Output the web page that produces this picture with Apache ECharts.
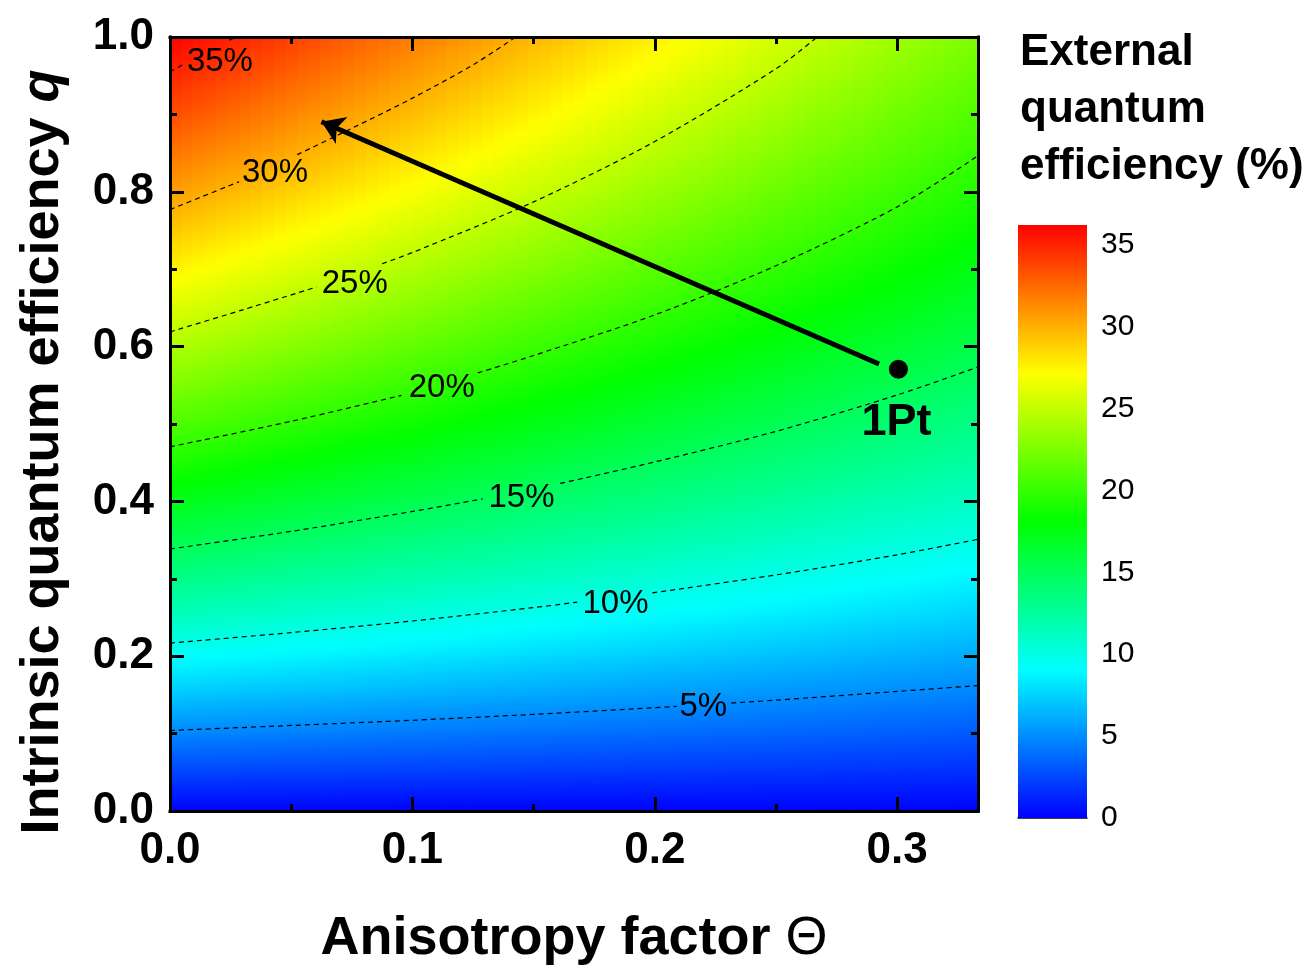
<!DOCTYPE html>
<html>
<head>
<meta charset="utf-8">
<script src="https://cdn.jsdelivr.net/npm/echarts@6/dist/echarts.min.js"></script>
<style>
  html, body { margin: 0; padding: 0; background: #fff; }
  #main { width: 1313px; height: 967px; }
</style>
</head>
<body>
<div id="main"></div>
<script>
// ---------------- DATA ----------------
// Grid nodes of the EQE map
const thetaNodes = [0, 0.0666667, 0.1333333, 0.2, 0.2666667, 0.3333333];
const qNodes = [0, 0.05, 0.10, 0.15, 0.20, 0.25, 0.30, 0.35, 0.40, 0.45, 0.50,
                0.55, 0.60, 0.65, 0.70, 0.75, 0.80, 0.85, 0.90, 0.95, 1.00];
// EQE (%) along q, one array per Θ column
const eqeTheta0 = [0, 2.43, 4.77, 7.03, 9.21, 11.32, 13.36, 15.34, 17.25, 19.10, 20.89, 22.63, 24.32, 25.96, 27.55, 29.10, 30.60, 32.06, 33.48, 34.86, 36.20];
const eqeTheta1 = [0, 2.26, 4.43, 6.53, 8.55, 10.50, 12.38, 14.20, 15.95, 17.65, 19.30, 20.89, 22.44, 23.93, 25.38, 26.79, 28.15, 29.48, 30.77, 32.03, 33.24];
const eqeTheta2 = [0, 2.10, 4.11, 6.04, 7.90, 9.70, 11.43, 13.10, 14.70, 16.25, 17.76, 19.21, 20.62, 21.97, 23.29, 24.56, 25.80, 27.00, 28.17, 29.29, 30.39];
const eqeTheta3 = [0, 1.93, 3.78, 5.56, 7.26, 8.90, 10.48, 12.01, 13.48, 14.89, 16.26, 17.57, 18.85, 20.07, 21.26, 22.41, 23.53, 24.61, 25.65, 26.66, 27.65];
const eqeTheta4 = [0, 1.77, 3.47, 5.08, 6.65, 8.14, 9.57, 10.95, 12.28, 13.56, 14.79, 15.97, 17.12, 18.22, 19.29, 20.32, 21.32, 22.30, 23.23, 24.13, 25.01];
const eqeTheta5 = [0, 1.61, 3.15, 4.63, 6.04, 7.39, 8.69, 9.93, 11.12, 12.27, 13.38, 14.44, 15.47, 16.46, 17.41, 18.33, 19.22, 20.08, 20.92, 21.72, 22.50];

// Colour scale range (%)
const colorScaleRange = [0, 36.2];
const colorbarTicks = [0, 5, 10, 15, 20, 25, 30, 35];

// Dashed iso-EQE contours [Θ, q]; '-' marks the gap left for the label
const contour5  = [[0,0.104],[0.05,0.1105],[0.10,0.1172],[0.15,0.1248],[0.20,0.1334],[0.209,0.1352],['-','-'],[0.2315,0.1395],[0.25,0.1432],[0.30,0.1545],[0.3333,0.162]];
const contour10 = [[0,0.217],[0.05,0.2305],[0.10,0.2455],[0.15,0.2628],[0.168,0.2698],['-','-'],[0.199,0.2819],[0.25,0.305],[0.30,0.331],[0.3333,0.351]];
const contour15 = [[0,0.3385],[0.05,0.3613],[0.10,0.387],[0.129,0.4033],['-','-'],[0.161,0.4233],[0.20,0.451],[0.25,0.4905],[0.30,0.5375],[0.3333,0.5736]];
const contour20 = [[0,0.4705],[0.05,0.5035],[0.0955,0.537],['-','-'],[0.127,0.566],[0.15,0.5885],[0.20,0.641],[0.25,0.7045],[0.30,0.7805],[0.3333,0.8465]];
const contour25 = [[0,0.619],[0.03,0.6475],[0.0605,0.677],['-','-'],[0.0875,0.707],[0.10,0.7215],[0.15,0.787],[0.20,0.865],[0.25,0.959],[0.267,1.0]];
const contour30 = [[0,0.777],[0.0285,0.813],['-','-'],[0.0525,0.848],[0.075,0.882],[0.10,0.921],[0.125,0.964],[0.1426,1.0]];
const contour35 = [[0,0.955],[0.006,0.9655],['-','-'],[0.0245,0.996],[0.0275,1.0]];

// Contour labels
const contourLabelText = ['5%', '10%', '15%', '20%', '25%', '30%', '35%'];
const contourLabelTheta = [0.2200, 0.1838, 0.1450, 0.1121, 0.0762, 0.0433, 0.0206];
const contourLabelQ     = [0.1344, 0.2681, 0.4050, 0.5465, 0.6815, 0.8243, 0.9677];

// Device point and arrow
const devicePoint = [0.3005, 0.5707];
const deviceName = '1Pt';
const arrowStart = [0.2925, 0.5775];
const arrowEnd = [0.0625, 0.8906];

// Axis ranges / ticks
const thetaRange = [0, 0.3333333];
const qRange = [0, 1];

// ---------------- STYLE ----------------
const FONT = '"Liberation Sans", Arial, Helvetica, sans-serif';
const rainbowStops = [[0,0,255],[0,255,255],[0,255,0],[255,255,0],[255,0,0]];

function valueToColor(v) {
  const t = Math.max(0, Math.min(1, (v - colorScaleRange[0]) / (colorScaleRange[1] - colorScaleRange[0]))) * (rainbowStops.length - 1);
  const i = Math.min(Math.floor(t), rainbowStops.length - 2);
  const f = t - i;
  const a = rainbowStops[i], b = rainbowStops[i + 1];
  return 'rgb(' + Math.round(a[0] + (b[0] - a[0]) * f) + ',' + Math.round(a[1] + (b[1] - a[1]) * f) + ',' + Math.round(a[2] + (b[2] - a[2]) * f) + ')';
}

const eqeColumns = [eqeTheta0, eqeTheta1, eqeTheta2, eqeTheta3, eqeTheta4, eqeTheta5];
const cellData = [];
for (let i = 0; i < thetaNodes.length - 1; i++) {
  for (let j = 0; j < qNodes.length - 1; j++) {
    cellData.push([thetaNodes[i], qNodes[j], thetaNodes[i + 1], qNodes[j + 1],
      eqeColumns[i][j], eqeColumns[i + 1][j], eqeColumns[i][j + 1], eqeColumns[i + 1][j + 1]]);
  }
}

function renderCell(params, api) {
  const p0 = api.coord([api.value(0), api.value(1)]);
  const p1 = api.coord([api.value(2), api.value(3)]);
  const v00 = api.value(4), v10 = api.value(5), v01 = api.value(6), v11 = api.value(7);
  const K = 14;
  const w = (p1[0] - p0[0]) / K;
  const h = p0[1] - p1[1];
  const children = [];
  for (let k = 0; k < K; k++) {
    const tm = (k + 0.5) / K;
    const vb = v00 + (v10 - v00) * tm;
    const vt = v01 + (v11 - v01) * tm;
    const stops = [];
    for (let s = 0; s <= 4; s++) {
      const f = s / 4;
      stops.push({ offset: f, color: valueToColor(vb + (vt - vb) * f) });
    }
    children.push({
      type: 'rect',
      shape: { x: p0[0] + k * w, y: p1[1], width: w + 0.8, height: h + 0.8 },
      style: { fill: { type: 'linear', x: 0, y: 1, x2: 0, y2: 0, colorStops: stops } },
      silent: true
    });
  }
  return { type: 'group', children: children };
}

function renderColorbar(params, api) {
  const p0 = api.coord([api.value(0), api.value(1)]);
  const p1 = api.coord([api.value(2), api.value(3)]);
  const stops = rainbowStops.map(function (c, i) {
    return { offset: i / (rainbowStops.length - 1), color: 'rgb(' + c.join(',') + ')' };
  });
  return {
    type: 'rect',
    shape: { x: p0[0], y: p1[1], width: p1[0] - p0[0], height: p0[1] - p1[1] },
    style: { fill: { type: 'linear', x: 0, y: 1, x2: 0, y2: 0, colorStops: stops } }
  };
}

function oneDecimal(v) {
  return Math.abs(v * 10 - Math.round(v * 10)) < 1e-6 ? v.toFixed(1) : '';
}

const lineBlack3 = { color: '#000', width: 3, cap: 'square' };
function frameAxis(position, min, max, interval, major, extra) {
  return Object.assign({
    type: 'value', gridIndex: 0, position: position, min: min, max: max, interval: interval, z: 10,
    axisLine: { show: major, onZero: false, lineStyle: lineBlack3 },
    axisTick: { show: true, inside: true, length: major ? 14 : 7, lineStyle: { color: '#000', width: 3 } },
    axisLabel: { show: false },
    splitLine: { show: false },
    minorTick: { show: false }
  }, extra || {});
}

const labelStyle = { fontSize: 44, fontWeight: 'bold', fontFamily: FONT, color: '#000' };

const contourSeries = [contour5, contour10, contour15, contour20, contour25, contour30, contour35].map(function (c) {
  return {
    type: 'line', xAxisIndex: 0, yAxisIndex: 0, data: c,
    showSymbol: false, symbol: 'none', smooth: 0.3, connectNulls: false, silent: true, z: 3,
    lineStyle: { color: '#000', width: 1.2, opacity: 1, type: [5, 4] }
  };
});

const option = {
  animation: false,
  backgroundColor: '#fff',
  title: {
    text: 'External\nquantum\nefficiency (%)',
    left: 1020, top: 24, padding: 0,
    textStyle: { fontSize: 44, fontWeight: 'bold', fontFamily: FONT, color: '#000', lineHeight: 57 }
  },
  grid: [
    { left: 170, top: 37, width: 808, height: 774, containLabel: false, outerBoundsMode: 'none' },
    { left: 1018, top: 225, width: 69, height: 593, containLabel: false, outerBoundsMode: 'none' }
  ],
  xAxis: [
    frameAxis('bottom', thetaRange[0], thetaRange[1], 0.1, true, {
      axisLabel: Object.assign({ show: true, margin: 18, formatter: oneDecimal }, labelStyle),
      name: '{b|Anisotropy factor }{t|Θ}', nameLocation: 'middle', nameGap: 101,
      nameTextStyle: {
        fontSize: 54, fontWeight: 'bold', fontFamily: FONT, color: '#000',
        rich: {
          b: { fontSize: 54, fontWeight: 'bold', fontFamily: FONT, color: '#000' },
          t: { fontSize: 54, fontWeight: 'normal', fontFamily: FONT, color: '#000' }
        }
      }
    }),
    frameAxis('bottom', thetaRange[0], thetaRange[1], 0.05, false),
    frameAxis('top', thetaRange[0], thetaRange[1], 0.1, true),
    frameAxis('top', thetaRange[0], thetaRange[1], 0.05, false),
    { type: 'value', gridIndex: 1, min: 0, max: 1, position: 'bottom',
      axisLine: { show: true, onZero: false, lineStyle: { color: '#000', width: 1.5 } },
      axisTick: { show: false }, axisLabel: { show: false }, splitLine: { show: false } }
  ],
  yAxis: [
    frameAxis('left', qRange[0], qRange[1], 0.2, true, {
      axisLabel: Object.assign({ show: true, margin: 16, formatter: oneDecimal }, labelStyle),
      name: 'Intrinsic quantum efficiency {i|q}', nameLocation: 'middle', nameGap: 100,
      nameTextStyle: {
        fontSize: 54, fontWeight: 'bold', fontFamily: FONT, color: '#000',
        padding: [0, 56, 0, 0],
        rich: {
          i: { fontSize: 54, fontWeight: 'bold', fontStyle: 'italic', fontFamily: FONT, color: '#000' }
        }
      }
    }),
    frameAxis('left', qRange[0], qRange[1], 0.1, false),
    frameAxis('right', qRange[0], qRange[1], 0.2, true),
    frameAxis('right', qRange[0], qRange[1], 0.1, false),
    { type: 'value', gridIndex: 1, min: colorScaleRange[0], max: colorScaleRange[1], interval: 5, position: 'right',
      axisLine: { show: false, onZero: false }, axisTick: { show: false }, splitLine: { show: false },
      axisLabel: { show: true, margin: 14, fontSize: 30, fontFamily: FONT, color: '#000',
        formatter: function (v) { return colorbarTicks.indexOf(v) >= 0 ? String(v) : ''; } } }
  ],
  series: [
    {
      type: 'custom', name: 'EQE map', xAxisIndex: 0, yAxisIndex: 0, data: cellData,
      renderItem: renderCell, encode: { x: [0, 2], y: [1, 3] }, silent: true, z: 1
    },
    {
      type: 'custom', name: 'colorbar', xAxisIndex: 4, yAxisIndex: 4,
      data: [[0, colorScaleRange[0], 1, colorScaleRange[1]]],
      renderItem: renderColorbar, encode: { x: [0, 2], y: [1, 3] }, silent: true, z: 1
    }
  ].concat(contourSeries).concat([
    {
      type: 'scatter', name: 'contour labels', xAxisIndex: 0, yAxisIndex: 0, silent: true, z: 4,
      symbolSize: 1, itemStyle: { color: 'rgba(0,0,0,0)', opacity: 1 },
      data: contourLabelText.map(function (t, i) { return { name: t, value: [contourLabelTheta[i], contourLabelQ[i]] }; }),
      label: { show: true, position: 'inside', formatter: '{b}', fontSize: 33, fontFamily: FONT, color: '#000', opacity: 1 }
    },
    {
      type: 'lines', coordinateSystem: 'cartesian2d', xAxisIndex: 0, yAxisIndex: 0, silent: true, z: 5,
      data: [{ coords: [arrowStart, arrowEnd] }],
      symbol: ['none', 'arrow'], symbolSize: 22,
      lineStyle: { color: '#000', width: 5, opacity: 1, curveness: 0 }
    },
    {
      type: 'scatter', name: 'device', xAxisIndex: 0, yAxisIndex: 0, silent: true, z: 6,
      symbol: 'circle', symbolSize: 19, itemStyle: { color: '#000', opacity: 1 },
      data: [{ name: deviceName, value: devicePoint }],
      label: { show: true, position: 'bottom', distance: 21, formatter: '{b}', offset: [-2, 0],
        fontSize: 45, fontWeight: 'bold', fontFamily: FONT, color: '#000', opacity: 1 }
    }
  ])
};

const chart = echarts.init(document.getElementById('main'), null, { renderer: 'canvas', width: 1313, height: 967 });
chart.setOption(option);
</script>
</body>
</html>
